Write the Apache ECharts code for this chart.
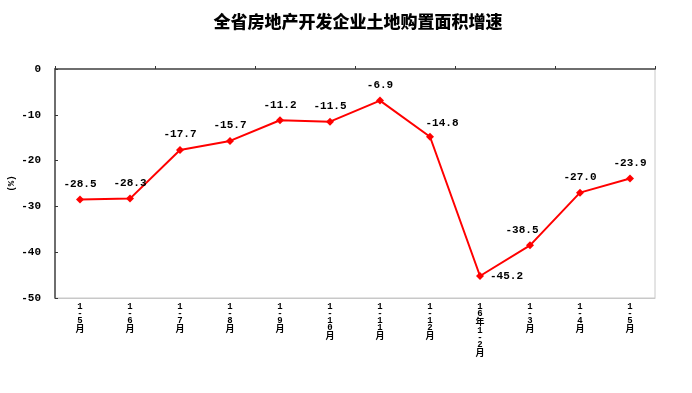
<!DOCTYPE html>
<html>
<head>
<meta charset="utf-8">
<script src="https://cdn.jsdelivr.net/npm/echarts@6/dist/echarts.min.js"></script>
<style>html,body{margin:0;padding:0;background:#fff}#c{width:692px;height:393px}</style>
</head>
<body>
<div id="c"></div>
<script>
const titleText = '全省房地产开发企业土地购置面积增速';
const categories = ['1-5月','1-6月','1-7月','1-8月','1-9月','1-10月','1-11月','1-12月','16年1-2月','1-3月','1-4月','1-5月'];
const values = [-28.5, -28.3, -17.7, -15.7, -11.2, -11.5, -6.9, -14.8, -45.2, -38.5, -27.0, -23.9];
const yMin = -50, yMax = 0, yInterval = 10;

const labelPos = values.map((v, i) => {
  if (i === 8) return {position: 'right', distance: 6};
  if (i === 7) return {position: 'top', offset: [12, 0], distance: 4};
  if (i === 9) return {position: 'top', offset: [-8, 0], distance: 6};
  return {position: 'top', distance: 6};
});

const chart = echarts.init(document.getElementById('c'), null, {renderer: 'canvas'});
chart.setOption({
  animation: false,
  backgroundColor: '#fff',
  title: {
    text: titleText, left: 353, top: 8, textAlign: 'center',
    textStyle: {fontFamily: 'Noto Sans CJK SC', fontWeight: 900, fontSize: 17, color: '#000'}
  },
  grid: {left: 55, right: 37, top: 69, bottom: 95, show: true, borderColor: '#c8c8c8', borderWidth: 1,
         containLabel: false, outerBoundsMode: 'none'},
  xAxis: [{
    type: 'category', data: categories, position: 'top', boundaryGap: true,
    axisLine: {onZero: false, lineStyle: {color: '#6e6e6e', width: 2}},
    axisTick: {show: true, inside: false, length: 3, lineStyle: {color: '#333'}},
    axisLabel: {show: false}
  }, {
    type: 'category', data: categories, position: 'bottom', boundaryGap: true,
    axisLine: {onZero: false, lineStyle: {color: '#c8c8c8', width: 1}},
    axisTick: {show: false},
    axisLabel: {
      interval: 0, margin: 5, color: '#000', verticalAlign: 'top',
      formatter: s => s.split('').map(ch => /[0-9\-]/.test(ch) ? '{d|' + ch + '}' : '{c|' + ch + '}').join('\n'),
      rich: {
        d: {fontFamily: 'Liberation Mono', fontWeight: 'bold', fontSize: 9, lineHeight: 7, color: '#000'},
        c: {fontFamily: 'Noto Sans CJK SC', fontWeight: 'bold', fontSize: 9, lineHeight: 10, color: '#000'}
      }
    }
  }],
  yAxis: {
    type: 'value', min: yMin, max: yMax, interval: yInterval,
    name: '(%)', nameLocation: 'middle', nameGap: 39, nameRotate: 90, nameMoveOverlap: false,
    nameTextStyle: {fontFamily: 'Liberation Mono', fontWeight: 'bold', fontSize: 9, color: '#000'},
    axisLine: {show: true, lineStyle: {color: '#6e6e6e', width: 2}},
    axisTick: {show: true, inside: true, length: 3, lineStyle: {color: '#333'}},
    splitLine: {show: false},
    axisLabel: {margin: 14, color: '#000', fontFamily: 'Liberation Mono', fontWeight: 'bold', fontSize: 11}
  },
  series: [{
    type: 'line', xAxisIndex: 1,
    data: values.map((v, i) => ({value: v, label: labelPos[i]})),
    symbol: 'diamond', symbolSize: 8,
    lineStyle: {color: '#ff0000', width: 2},
    itemStyle: {color: '#ff0000'},
    label: {
      show: true, color: '#000', fontFamily: 'Liberation Mono', fontWeight: 'bold', fontSize: 11,
      formatter: p => p.value.toFixed(1)
    }
  }]
});
</script>
</body>
</html>
